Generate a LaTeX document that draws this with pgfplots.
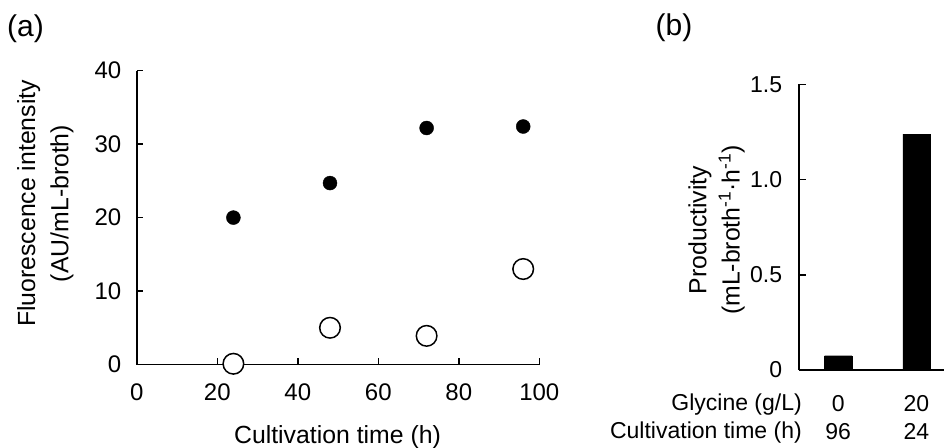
\documentclass[border=0pt]{standalone}
\usepackage{pgfplots}
\pgfplotsset{compat=1.18}
\usepackage{fontspec}
\setmainfont{Liberation Sans}
\newcommand{\fs}{\fontsize{23}{28}\selectfont}
\newcommand{\fa}{\fontsize{24}{29}\selectfont}
\newcommand{\fl}{\fontsize{24.8}{30}\selectfont}
\newcommand{\fp}{\fontsize{30}{36}\selectfont}
\begin{document}
\begin{tikzpicture}
\useasboundingbox (0,0) rectangle (944pt,447pt);
\clip (0,0) rectangle (944pt,447pt);
\pgfplotsset{
  every axis/.append style={
    scale only axis,
    axis lines*=left,
    axis line style={line width=1.5pt},
    every tick/.style={line width=1.5pt, black},
    tick align=inside,
    major tick length=6.5pt,
    font=\fs,
    /pgf/number format/assume math mode=true,
    tick label style={font=\fs},
    clip=false,
  }
}
% panel (a)
\begin{axis}[
  at={(136.8pt,82.5pt)}, anchor=south west,
  width=402.5pt, height=293.8pt,
  xmin=0, xmax=100, ymin=0, ymax=40,
  xtick={0,20,40,60,80,100},
  ytick={0,10,20,30,40},
  tick label style={font=\fa},
  xticklabel style={yshift=-16pt},
  yticklabel style={xshift=-12pt},
]
\addplot[only marks, mark=*, mark size=7pt, mark options={fill=black, draw=black}]
  coordinates {(24,20) (48,24.7) (72,32.2) (96,32.4)};
\addplot[only marks, mark=*, mark size=10.3pt, mark options={fill=white, draw=black, line width=1.5pt}]
  coordinates {(24,0.1) (48,5.0) (72,3.9) (96,13.0)};
\end{axis}
\node[rotate=90, anchor=center] at (28.6pt,243.5pt) {\fl Fluorescence intensity};
\node[rotate=90, anchor=center] at (62pt,243.5pt) {\fl (AU/mL-broth)};
\node[anchor=center] at (337.5pt,10pt) {\fl Cultivation time (h)};
\node[anchor=base west, inner sep=0pt] at (7pt,410.3pt) {\fp (a)};
% panel (b)
\begin{axis}[
  at={(799pt,77pt)}, anchor=south west,
  width=195.75pt, height=285.7pt,
  xmin=0.5, xmax=3, ymin=0, ymax=1.5,
  ybar, bar width=27.3pt,
  xtick={1,2}, xticklabels={0\\96, 20\\24},
  xticklabel style={align=center, yshift=-15.7pt},
  xtick style={draw=none},
  ytick={0,0.5,1,1.5}, yticklabels={0,0.5,1.0,1.5},
  yticklabel style={xshift=-13.3pt},
]
\addplot[fill=black, draw=black] coordinates {(1,0.075) (2,1.238)};
\end{axis}
\node[rotate=90, anchor=center] at (700pt,217pt) {\fl Productivity};
\node[rotate=90, anchor=center] at (731.7pt,217pt) {\fl (mL-broth\textsuperscript{-1}·h\textsuperscript{-1})};
\node[anchor=base east, inner sep=0pt] at (802pt,37pt) {\fs Glycine (g/L)};
\node[anchor=base east, inner sep=0pt] at (802pt,8.8pt) {\fs Cultivation time (h)};
\node[anchor=base west, inner sep=0pt] at (655.5pt,411.6pt) {\fp (b)};
\end{tikzpicture}
\end{document}
